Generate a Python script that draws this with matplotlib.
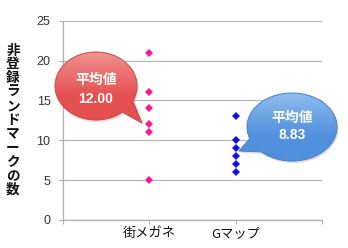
import numpy as np
import matplotlib
matplotlib.use("Agg")
import matplotlib.pyplot as plt
from matplotlib.path import Path
from matplotlib.patches import PathPatch

plt.rcParams['font.family'] = ['Noto Sans CJK JP', 'DejaVu Sans']

categories = ["街メガネ", "Gマップ"]
machi_values = [21, 16, 14, 12, 11, 5]
gmap_values = [13, 10, 9, 8, 7, 6]
mean_labels = ["12.00", "8.83"]
ylabel = "非登録ランドマークの数"
yticks = [0, 5, 10, 15, 20, 25]

W, H = 348, 248
fig = plt.figure(figsize=(W / 100, H / 100), dpi=100)
ax = fig.add_axes([63 / W, 1 - 220 / H, (322 - 63) / W, (220 - 20.7) / H])

ax.set_xlim(0, 3)
ax.set_ylim(0, 25)
ax.set_yticks(yticks)
ax.set_yticklabels([str(t) for t in yticks], fontsize=9, color="#333333",
                   family=["Liberation Sans", "DejaVu Sans"])
ax.set_xticks([0, 1, 2, 3])
ax.set_xticklabels(["", categories[0], categories[1], ""], fontsize=9.5, color="#111111")
ax.grid(axis="y", color="#b8b8b8", linewidth=0.9)
ax.set_axisbelow(True)
for s in ["top", "right"]:
    ax.spines[s].set_visible(False)
for s in ["left", "bottom"]:
    ax.spines[s].set_color("#b0b0b0")
    ax.spines[s].set_linewidth(0.9)
ax.tick_params(axis="both", length=3, width=0.8, color="#b0b0b0", pad=2)
ax.tick_params(axis="y", pad=6)

ax.plot([1] * len(machi_values), machi_values, linestyle="none", marker="D",
        markersize=4.5, color="#ff1493", markeredgewidth=0)
ax.plot([2] * len(gmap_values), gmap_values, linestyle="none", marker="D",
        markersize=4.5, color="#1010ee", markeredgewidth=0)

fig.text(13 / W, 1 - 120 / H, "\n".join(ylabel), ha="center", va="center",
         fontsize=9.8, linespacing=0.99, color="#111111", fontweight="bold")

# overlay in pixel coordinates for callouts
ov = fig.add_axes([0, 0, 1, 1], zorder=5)
ov.set_xlim(0, W)
ov.set_ylim(H, 0)
ov.axis("off")
ov.patch.set_alpha(0)


def bubble(cx, cy, a, b, ang0, ang1, tip, top_col, bot_col, edge, lines, offs):
    t = np.radians(np.linspace(ang0, ang1, 200))
    xs = cx + a * np.cos(t)
    ys = cy + b * np.sin(t)
    verts = list(zip(xs, ys)) + [tip, (xs[0], ys[0])]
    codes = [Path.MOVETO] + [Path.LINETO] * (len(verts) - 2) + [Path.CLOSEPOLY]
    path = Path(verts, codes)
    sv = [(x + 1.5, y + 2) for x, y in verts]
    ov.add_patch(PathPatch(Path(sv, codes), facecolor="#000000", alpha=0.13,
                           edgecolor="none"))
    patch = PathPatch(path, facecolor="none", edgecolor=edge, linewidth=0.7)
    ov.add_patch(patch)
    ymin = min(ys.min(), tip[1]); ymax = max(ys.max(), tip[1])
    xmin = min(xs.min(), tip[0]); xmax = max(xs.max(), tip[0])
    n = 64
    c0 = np.array(matplotlib.colors.to_rgb(top_col))
    c1 = np.array(matplotlib.colors.to_rgb(bot_col))
    f = np.clip(np.linspace(0, 1, n) * 1.6, 0, 1)[:, None]
    grad = (c0 * (1 - f) + c1 * f)[:, None, :].repeat(2, axis=1)
    im = ov.imshow(grad, extent=(xmin, xmax, ymax, ymin), aspect="auto",
                   interpolation="bilinear", zorder=1)
    im.set_clip_path(patch)
    patch.set_zorder(2)
    ov.text(cx, cy + offs[0], lines[0], ha="center", va="center", fontsize=10,
            color="white", fontweight="bold", zorder=3)
    ov.text(cx, cy + offs[1], lines[1], ha="center", va="center", fontsize=10,
            color="white", fontweight="bold", zorder=3,
            family=["Liberation Sans", "DejaVu Sans"])


bubble(96, 86, 41, 34, 50, 386, (142, 123), "#f29090", "#e4504f", "#cf4646",
       ["平均値", mean_labels[0]], (-6, 13))
bubble(292, 127, 45, 34, 160, 493, (239, 151), "#8fbdf0", "#5090dc", "#4480c8",
       ["平均値", mean_labels[1]], (-9, 8))

fig.savefig("out.png", dpi=100)
